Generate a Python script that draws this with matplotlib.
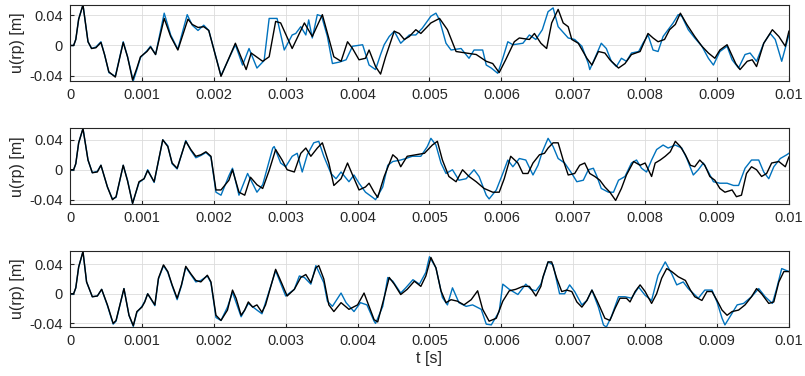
import numpy as np
import matplotlib
matplotlib.use("Agg")
from matplotlib import pyplot as plt

plt.rcParams['font.family'] = ['Liberation Sans', 'DejaVu Sans']

# time in ms, displacement in m
t1_black = [0, 0.05, 0.08, 0.12, 0.18, 0.25, 0.30, 0.36, 0.43, 0.48, 0.54, 0.63, 0.74, 0.80, 0.87, 0.93, 0.98,
            1.07, 1.12, 1.19, 1.31, 1.40, 1.50, 1.64, 1.70, 1.78, 1.86, 1.93, 2.10, 2.30, 2.45, 2.52, 2.68, 2.77,
            2.86, 2.93, 3.09, 3.26, 3.37, 3.51, 3.67, 3.77, 3.86, 3.93, 4.02, 4.11, 4.16, 4.25, 4.32, 4.39, 4.51,
            4.58, 4.65, 4.72, 4.81, 4.88, 5.02, 5.14, 5.25, 5.37, 5.51, 5.65, 5.79, 5.88, 5.97, 6.06, 6.18, 6.25,
            6.39, 6.46, 6.55, 6.63, 6.70, 6.79, 6.86, 6.93, 6.98, 7.07, 7.19, 7.26, 7.35, 7.44, 7.51, 7.63, 7.72,
            7.81, 7.93, 8.04, 8.11, 8.18, 8.27, 8.34, 8.42, 8.49, 8.58, 8.69, 8.79, 8.88, 8.97, 9.04, 9.14, 9.26,
            9.32, 9.42, 9.49, 9.55, 9.65, 9.77, 9.86, 9.95, 10.0]
u1_black = [0, 0, 0.008, 0.035, 0.054, 0.005, -0.004, -0.003, 0.004, -0.012, -0.035, -0.042, 0.004, -0.015, -0.046,
            -0.030, -0.015, -0.008, -0.002, -0.012, 0.036, 0.012, -0.006, 0.035, 0.028, 0.024, 0.025, 0.020, -0.041,
            0.003, -0.032, -0.010, -0.021, -0.015, 0.032, 0.030, -0.004, 0.030, 0.012, 0.041, -0.015, -0.021, 0.005,
            -0.004, -0.019, -0.017, -0.006, -0.028, -0.038, -0.015, 0.019, 0.016, 0.008, 0.012, 0.021, 0.016, 0.030,
            0.036, 0.021, -0.008, -0.010, -0.012, -0.021, -0.024, -0.036, -0.019, 0.005, 0.010, 0.008, 0.016, 0.003,
            -0.004, 0.030, 0.048, 0.030, 0.025, 0.008, 0.003, -0.017, -0.026, -0.008, -0.010, -0.019, -0.030, -0.024,
            -0.012, -0.008, 0.016, 0.010, 0.005, 0.008, 0.021, 0.028, 0.043, 0.028, 0.012, -0.001, -0.010, -0.017,
            -0.006, 0.001, -0.024, -0.032, -0.021, -0.019, -0.028, 0.003, 0.021, 0.012, -0.001, 0.019]

t1_blue = [0, 0.05, 0.08, 0.12, 0.18, 0.25, 0.30, 0.36, 0.43, 0.48, 0.54, 0.63, 0.74, 0.80, 0.88, 0.93, 0.98,
           1.07, 1.12, 1.19, 1.31, 1.40, 1.50, 1.63, 1.70, 1.78, 1.86, 1.93, 2.10, 2.30, 2.40, 2.49, 2.60, 2.70,
           2.77, 2.88, 2.98, 3.09, 3.14, 3.21, 3.28, 3.32, 3.37, 3.44, 3.50, 3.58, 3.65, 3.75, 3.84, 3.93, 4.07,
           4.16, 4.25, 4.32, 4.37, 4.44, 4.51, 4.60, 4.72, 4.81, 4.90, 5.02, 5.09, 5.14, 5.23, 5.30, 5.44, 5.55,
           5.62, 5.74, 5.79, 5.86, 5.95, 6.02, 6.09, 6.16, 6.30, 6.39, 6.48, 6.57, 6.65, 6.72, 6.79, 6.93, 7.02,
           7.12, 7.21, 7.23, 7.30, 7.39, 7.46, 7.53, 7.60, 7.67, 7.74, 7.81, 7.91, 7.97, 8.04, 8.11, 8.18, 8.25,
           8.32, 8.39, 8.46, 8.51, 8.60, 8.69, 8.79, 8.88, 8.95, 9.04, 9.14, 9.21, 9.30, 9.39, 9.46, 9.55, 9.65,
           9.74, 9.81, 9.90, 10.0]
u1_blue = [0, 0, 0.008, 0.035, 0.054, 0.005, -0.004, -0.002, 0.005, -0.012, -0.036, -0.041, 0.005, -0.015, -0.047,
           -0.032, -0.016, -0.007, -0.001, -0.012, 0.043, 0.014, -0.005, 0.041, 0.027, 0.020, 0.027, 0.020, -0.040,
           0.001, -0.026, -0.004, -0.030, -0.020, 0.036, 0.036, -0.006, 0.014, 0.016, 0.025, 0.014, 0.034, 0.010,
           0.041, 0.039, 0.012, -0.024, -0.022, -0.019, -0.001, 0.001, -0.026, -0.032, -0.012, 0.001, 0.012, 0.019,
           0.003, 0.014, 0.014, 0.023, 0.039, 0.043, 0.034, 0.003, -0.006, -0.004, -0.017, -0.006, -0.006, -0.026,
           -0.030, -0.037, -0.017, 0.005, 0.001, 0.003, 0.014, 0.008, 0.021, 0.045, 0.050, 0.025, 0.010, 0.008,
           -0.001, -0.024, -0.032, -0.017, 0.003, -0.004, -0.021, -0.028, -0.017, -0.021, -0.010, -0.008, 0.003,
           0.014, -0.006, -0.008, 0.012, 0.021, 0.030, 0.041, 0.039, 0.021, 0.010, -0.001, -0.017, -0.026, -0.008,
           -0.001, -0.019, -0.030, -0.012, -0.010, -0.021, 0.003, 0.016, 0.008, -0.021, 0.014]

t2_black = [0, 0.05, 0.08, 0.12, 0.18, 0.25, 0.31, 0.38, 0.43, 0.52, 0.59, 0.64, 0.74, 0.80, 0.87, 0.96, 1.03,
            1.08, 1.17, 1.29, 1.36, 1.42, 1.49, 1.61, 1.68, 1.75, 1.82, 1.89, 1.96, 2.03, 2.10, 2.21, 2.26, 2.35,
            2.43, 2.51, 2.60, 2.68, 2.77, 2.86, 2.95, 3.02, 3.12, 3.21, 3.28, 3.35, 3.44, 3.51, 3.60, 3.67, 3.77,
            3.86, 3.93, 4.02, 4.11, 4.16, 4.23, 4.28, 4.37, 4.49, 4.55, 4.60, 4.69, 4.81, 4.93, 5.04, 5.11, 5.18,
            5.27, 5.37, 5.46, 5.55, 5.65, 5.76, 5.88, 5.97, 6.04, 6.13, 6.23, 6.30, 6.37, 6.44, 6.53, 6.60, 6.65,
            6.72, 6.79, 6.86, 6.93, 7.02, 7.09, 7.16, 7.23, 7.30, 7.37, 7.44, 7.51, 7.59, 7.67, 7.74, 7.84, 7.93,
            8.00, 8.09, 8.14, 8.21, 8.28, 8.35, 8.42, 8.49, 8.56, 8.63, 8.69, 8.76, 8.83, 8.90, 8.97, 9.04, 9.11,
            9.21, 9.27, 9.34, 9.41, 9.48, 9.55, 9.62, 9.69, 9.76, 9.86, 9.95, 10.0]
u2_black = [0, 0, 0.008, 0.036, 0.055, 0.013, -0.004, -0.003, 0.006, -0.023, -0.040, -0.036, 0.006, -0.015, -0.045,
            -0.016, -0.012, -0.001, -0.016, 0.040, 0.031, 0.009, 0.002, 0.038, 0.027, 0.018, 0.020, 0.024, 0.018,
            -0.027, -0.027, -0.014, 0.000, -0.030, -0.034, -0.010, -0.020, -0.025, -0.001, 0.027, 0.013, 0.000,
            -0.003, 0.022, 0.029, 0.018, 0.029, 0.036, 0.009, -0.021, -0.012, 0.009, -0.007, -0.027, -0.023, -0.018,
            -0.030, -0.037, -0.009, 0.020, 0.015, 0.004, 0.018, 0.020, 0.022, 0.033, 0.038, 0.013, -0.009, -0.016,
            0.000, -0.009, -0.016, -0.025, -0.030, -0.030, -0.012, 0.018, 0.009, -0.005, -0.005, 0.009, 0.020, 0.022,
            0.029, 0.036, 0.036, 0.013, -0.007, -0.005, 0.006, 0.009, -0.005, -0.009, -0.014, -0.023, -0.030, -0.041,
            -0.025, -0.007, 0.011, 0.006, 0.009, -0.009, 0.009, 0.013, 0.018, 0.024, 0.038, 0.031, 0.020, 0.006,
            0.004, 0.013, 0.006, -0.009, -0.014, -0.025, -0.030, -0.027, -0.036, -0.034, -0.005, 0.004, 0.000, -0.009,
            -0.005, 0.009, 0.011, 0.004, 0.017]

t2_blue = [0, 0.05, 0.08, 0.12, 0.18, 0.25, 0.31, 0.38, 0.43, 0.52, 0.59, 0.64, 0.74, 0.80, 0.87, 0.96, 1.03,
           1.08, 1.17, 1.29, 1.36, 1.42, 1.49, 1.61, 1.68, 1.75, 1.82, 1.89, 1.96, 2.03, 2.10, 2.21, 2.26, 2.35,
           2.47, 2.60, 2.68, 2.82, 2.84, 2.93, 3.00, 3.09, 3.16, 3.23, 3.30, 3.39, 3.46, 3.53, 3.63, 3.70, 3.77,
           3.88, 3.95, 4.02, 4.11, 4.21, 4.25, 4.35, 4.42, 4.49, 4.60, 4.67, 4.76, 4.88, 4.97, 5.02, 5.09, 5.16,
           5.23, 5.32, 5.41, 5.51, 5.62, 5.69, 5.79, 5.83, 5.93, 6.02, 6.09, 6.16, 6.25, 6.34, 6.44, 6.51, 6.57,
           6.65, 6.72, 6.79, 6.88, 6.98, 7.05, 7.14, 7.21, 7.28, 7.33, 7.39, 7.49, 7.56, 7.63, 7.72, 7.81, 7.88,
           7.95, 8.02, 8.09, 8.16, 8.25, 8.32, 8.42, 8.51, 8.58, 8.67, 8.74, 8.81, 8.88, 8.95, 9.04, 9.14, 9.23,
           9.30, 9.39, 9.48, 9.58, 9.65, 9.72, 9.79, 9.88, 9.97, 10.0]
u2_blue = [0, 0, 0.008, 0.036, 0.055, 0.013, -0.004, -0.002, 0.006, -0.023, -0.039, -0.037, 0.006, -0.014, -0.045,
           -0.017, -0.012, 0.000, -0.017, 0.040, 0.032, 0.008, 0.001, 0.039, 0.026, 0.016, 0.019, 0.023, 0.017,
           -0.030, -0.034, -0.008, 0.002, -0.034, -0.005, -0.030, -0.020, 0.029, 0.031, 0.009, 0.004, 0.018, 0.022,
           -0.003, 0.020, 0.036, 0.038, 0.018, -0.005, -0.012, -0.003, -0.016, -0.007, -0.018, -0.030, -0.037,
           -0.040, -0.023, 0.006, 0.011, 0.013, 0.015, 0.018, 0.018, 0.031, 0.042, 0.033, 0.009, -0.005, 0.000,
           -0.014, -0.012, 0.000, -0.009, -0.034, -0.039, -0.027, -0.005, 0.013, 0.004, 0.015, 0.013, -0.007, 0.006,
           0.024, 0.042, 0.031, 0.015, 0.009, -0.005, -0.016, -0.014, 0.000, 0.002, -0.009, -0.025, -0.030, -0.030,
           -0.014, -0.009, 0.009, 0.013, 0.002, -0.003, 0.013, 0.027, 0.033, 0.029, 0.033, 0.029, 0.015, -0.007,
           0.000, 0.009, -0.003, -0.016, -0.018, -0.018, -0.021, -0.021, 0.002, 0.013, 0.013, -0.003, -0.012, 0.004,
           0.015, 0.020, 0.022]

t3_black = [0, 0.05, 0.08, 0.12, 0.18, 0.23, 0.31, 0.38, 0.44, 0.52, 0.60, 0.64, 0.75, 0.82, 0.88, 0.93, 1.00,
            1.04, 1.08, 1.18, 1.23, 1.30, 1.36, 1.42, 1.49, 1.55, 1.61, 1.68, 1.75, 1.82, 1.91, 1.96, 2.03, 2.10,
            2.19, 2.26, 2.31, 2.38, 2.43, 2.48, 2.54, 2.60, 2.67, 2.72, 2.86, 2.95, 3.02, 3.12, 3.21, 3.28, 3.35,
            3.42, 3.46, 3.53, 3.60, 3.67, 3.77, 3.88, 4.00, 4.09, 4.16, 4.23, 4.28, 4.37, 4.44, 4.51, 4.60, 4.69,
            4.79, 4.88, 4.95, 5.02, 5.09, 5.16, 5.23, 5.30, 5.39, 5.48, 5.58, 5.67, 5.74, 5.83, 5.93, 6.02, 6.11,
            6.20, 6.30, 6.39, 6.48, 6.55, 6.58, 6.65, 6.70, 6.77, 6.84, 6.91, 6.98, 7.05, 7.12, 7.19, 7.26, 7.33,
            7.39, 7.44, 7.51, 7.58, 7.65, 7.74, 7.79, 7.86, 7.93, 8.00, 8.09, 8.16, 8.23, 8.30, 8.37, 8.46, 8.56,
            8.63, 8.69, 8.79, 8.86, 8.93, 9.00, 9.07, 9.14, 9.21, 9.30, 9.39, 9.48, 9.55, 9.62, 9.72, 9.79, 9.86,
            9.93, 10.0]
u3_black = [0, 0, 0.008, 0.036, 0.057, 0.016, -0.004, -0.003, 0.006, -0.015, -0.040, -0.036, 0.007, -0.029, -0.043,
            -0.024, -0.018, -0.011, 0.000, -0.015, 0.021, 0.039, 0.030, 0.012, -0.006, 0.012, 0.037, 0.027, 0.018,
            0.016, 0.025, 0.016, -0.029, -0.036, -0.022, 0.005, -0.006, -0.029, -0.022, -0.011, -0.018, -0.015,
            -0.025, -0.015, 0.033, 0.013, -0.003, 0.006, 0.022, 0.026, 0.015, 0.035, 0.038, 0.020, -0.015, -0.024,
            -0.012, -0.021, -0.015, 0.001, -0.017, -0.035, -0.038, -0.005, 0.022, 0.013, -0.001, 0.006, 0.017, 0.010,
            0.024, 0.049, 0.035, 0.004, -0.012, -0.008, -0.010, -0.015, -0.008, 0.004, -0.021, -0.037, -0.033, -0.010,
            0.004, 0.006, 0.010, 0.010, -0.003, 0.010, 0.023, 0.043, 0.043, 0.021, 0.003, 0.005, 0.003, -0.011,
            -0.018, -0.009, 0.005, -0.009, -0.022, -0.033, -0.036, -0.020, -0.006, -0.006, -0.011, 0.003, 0.012,
            0.003, -0.013, 0.000, 0.021, 0.034, 0.030, 0.023, 0.018, 0.005, -0.004, -0.009, 0.003, 0.003, -0.009,
            -0.022, -0.029, -0.024, -0.022, -0.015, -0.004, 0.007, 0.000, -0.013, -0.011, 0.016, 0.030, 0.030]

t3_blue = [0, 0.05, 0.08, 0.12, 0.18, 0.23, 0.31, 0.38, 0.44, 0.52, 0.60, 0.64, 0.75, 0.82, 0.88, 0.93, 1.00,
           1.04, 1.08, 1.18, 1.23, 1.30, 1.36, 1.42, 1.49, 1.55, 1.61, 1.68, 1.75, 1.82, 1.91, 1.96, 2.03, 2.10,
           2.19, 2.26, 2.38, 2.48, 2.60, 2.67, 2.86, 3.00, 3.12, 3.19, 3.26, 3.35, 3.42, 3.53, 3.58, 3.65, 3.77,
           3.84, 3.95, 4.04, 4.13, 4.23, 4.25, 4.35, 4.42, 4.49, 4.60, 4.67, 4.77, 4.86, 4.95, 5.00, 5.09, 5.18,
           5.25, 5.32, 5.41, 5.51, 5.60, 5.72, 5.79, 5.86, 5.97, 6.02, 6.11, 6.23, 6.34, 6.41, 6.48, 6.55, 6.65,
           6.72, 6.81, 6.88, 6.95, 7.02, 7.12, 7.19, 7.26, 7.35, 7.42, 7.46, 7.53, 7.63, 7.72, 7.81, 7.91, 8.00,
           8.09, 8.18, 8.28, 8.37, 8.44, 8.53, 8.60, 8.74, 8.83, 8.93, 9.00, 9.07, 9.11, 9.18, 9.28, 9.37, 9.48,
           9.58, 9.67, 9.77, 9.83, 9.90, 10.0]
u3_blue = [0, 0, 0.008, 0.036, 0.057, 0.016, -0.004, -0.003, 0.006, -0.016, -0.041, -0.037, 0.007, -0.029, -0.044,
           -0.025, -0.017, -0.010, 0.000, -0.016, 0.020, 0.038, 0.029, 0.011, -0.008, 0.011, 0.036, 0.026, 0.016,
           0.018, 0.024, 0.015, -0.032, -0.036, -0.018, 0.002, -0.031, -0.013, -0.022, -0.027, 0.031, -0.003,
           0.006, 0.024, 0.022, 0.013, 0.038, 0.015, -0.010, -0.017, 0.001, -0.012, -0.024, -0.012, -0.015, -0.037,
           -0.040, -0.017, 0.022, 0.017, 0.001, 0.008, 0.019, 0.013, 0.029, 0.050, 0.035, -0.005, -0.015, 0.008,
           -0.012, -0.017, -0.015, -0.021, -0.041, -0.042, -0.024, 0.013, 0.006, -0.001, 0.013, 0.006, 0.004, 0.013,
           0.043, 0.039, 0.000, 0.000, 0.012, 0.003, -0.015, -0.009, 0.005, -0.018, -0.042, -0.045, -0.031, -0.004,
           -0.004, -0.006, 0.009, -0.002, -0.009, 0.025, 0.043, 0.027, 0.012, 0.016, 0.007, -0.006, 0.005, 0.005,
           -0.011, -0.033, -0.042, -0.031, -0.015, -0.013, -0.004, 0.007, -0.004, -0.013, 0.007, 0.034, 0.030]

series = [(t1_blue, u1_blue, t1_black, u1_black, (-0.047, 0.054)),
          (t2_blue, u2_blue, t2_black, u2_black, (-0.046, 0.0555)),
          (t3_blue, u3_blue, t3_black, u3_black, (-0.045, 0.0575))]

xticks = [0, 0.001, 0.002, 0.003, 0.004, 0.005, 0.006, 0.007, 0.008, 0.009, 0.01]
xticklabels = ["0", "0.001", "0.002", "0.003", "0.004", "0.005", "0.006", "0.007", "0.008", "0.009", "0.01"]
yticks = [-0.04, 0, 0.04]
yticklabels = ["-0.04", "0", "0.04"]

fig = plt.figure(figsize=(8.05, 3.76), dpi=100)
bottoms = [0.785, 0.457, 0.130]
h = 0.202
for i, (tb, ub, tk, uk, yl) in enumerate(series):
    ax = fig.add_axes([0.087, bottoms[i], 0.893, h])
    ax.plot(np.array(tb) * 1e-3, ub, color="#0072BD", lw=1.0)
    ax.plot(np.array(tk) * 1e-3, uk, color="black", lw=1.0)
    ax.set_xlim(0, 0.01)
    ax.set_ylim(*yl)
    ax.set_xticks(xticks)
    ax.set_xticklabels(xticklabels)
    ax.set_yticks(yticks)
    ax.set_yticklabels(yticklabels)
    ax.grid(True, color="#dcdcdc", lw=0.6)
    ax.set_axisbelow(True)
    ax.tick_params(direction="in", length=3, labelsize=10.5, colors="#262626", pad=5)
    for s in ax.spines.values():
        s.set_color("#262626")
        s.set_linewidth(0.8)
    ax.set_ylabel("u(rp) [m]", fontsize=11.5, color="#262626", labelpad=3)
    if i == 2:
        ax.set_xlabel("t [s]", fontsize=11.5, color="#262626", labelpad=2)

plt.savefig("out.png", dpi=100)
